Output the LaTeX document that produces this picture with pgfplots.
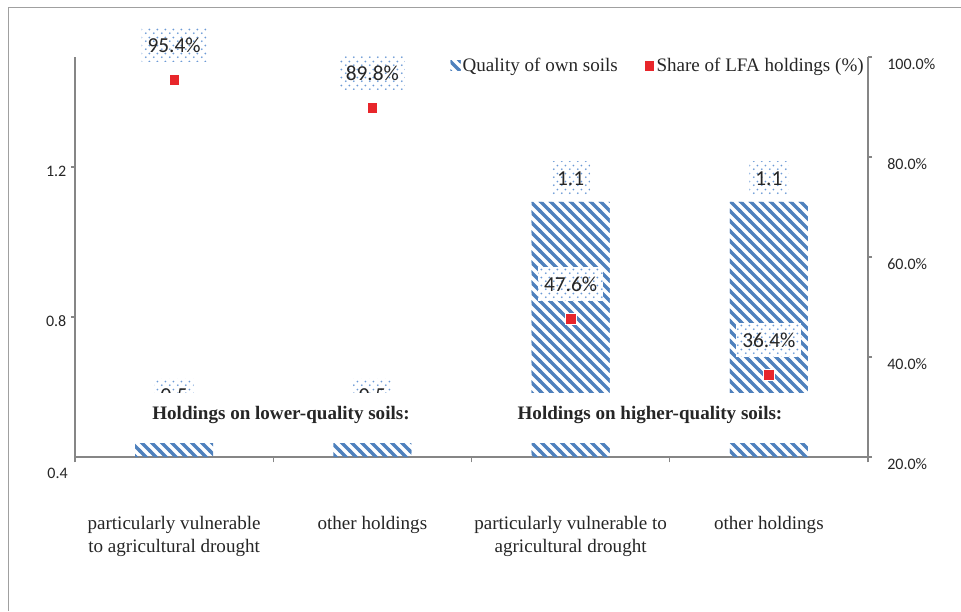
\documentclass[border=0pt]{standalone}
\usepackage{pgfplots}
\pgfplotsset{compat=1.18}
\usepackage{fontspec}
\setmainfont{Liberation Serif}
\newfontfamily\calibri{Carlito}
\usetikzlibrary{patterns.meta}

\definecolor{barblue}{HTML}{4F81BD}
\definecolor{dotblue}{HTML}{6C9AD6}
\definecolor{markred}{HTML}{E8262B}
\definecolor{axisgray}{HTML}{868686}
\definecolor{framegray}{HTML}{A0A0A0}
\definecolor{txt}{HTML}{262626}

\newcommand\serifsz{\fontsize{14.3}{17.2}\selectfont}
\newcommand\ticksz{\calibri\fontsize{12}{14.4}\selectfont}
\newcommand\datasz{\calibri\fontsize{16}{19}\selectfont}

\tikzdeclarepattern{
  name=soilstripes,
  type=uncolored,
  bottom left={(-1.5pt,-1.5pt)},
  top right={(9pt,9pt)},
  tile size={(7.5pt,7.5pt)},
  code={\draw[line width=2.5pt] (-1.5pt,9pt) -- (9pt,-1.5pt);}
}
\tikzdeclarepattern{
  name=labeldots,
  type=uncolored,
  bottom left={(0pt,0pt)},
  top right={(6pt,6pt)},
  tile size={(6pt,6pt)},
  code={\fill (1.5pt,1.5pt) circle (0.8pt);
        \fill (4.5pt,4.5pt) circle (0.8pt);}
}

% label boxes: white ground with blue dots, text colour set inside the label
\tikzset{
  labelbox/.style={font=\datasz, anchor=south, color=dotblue, draw=none,
    fill=white, postaction={pattern=labeldots, pattern color=dotblue, draw=none},
    minimum height=25pt, inner xsep=4.5pt, inner ysep=0pt},
}
\pgfplotsset{
  chartframe/.style={
    at={(56.25pt,115.5pt)}, anchor=south west,
    scale only axis, width=594.75pt, height=300pt,
    xmin=-0.5, xmax=3.5,
    /pgf/number format/assume math mode=true,
    axis line style={draw=axisgray, line width=1.1pt},
    tick style={draw=axisgray, line width=0.8pt},
    tick align=outside, major tick length=3pt, minor tick length=4pt,
  },
}

\begin{document}
\begin{tikzpicture}
  % left axis: soil quality bars
  \begin{axis}[
      chartframe,
      ymin=0.4267, ymax=1.4933,
      axis x line*=bottom, axis y line*=left,
      xtick={0,1,2,3}, major x tick style={draw=none},
      minor xtick={-0.5,0.5,1.5,2.5,3.5},
      xticklabels={{particularly vulnerable\\to agricultural drought},
                   {other holdings},
                   {particularly vulnerable to\\agricultural drought},
                   {other holdings}},
      xticklabel style={font=\serifsz, align=center, text=txt, yshift=-38pt},
      ytick={0.8,1.2},
      yticklabel={\pgfmathprintnumber[fixed,precision=1,fixed zerofill]{\tick}},
      yticklabel style={font=\ticksz, text=txt, yshift=-3pt},
      ybar, bar width=58.5pt,
      nodes near coords={\color{txt}\pgfmathprintnumber[fixed,precision=1]{\pgfplotspointmeta}},
      nodes near coords style={labelbox, yshift=5pt},
    ]
    \addplot[draw=none, pattern=soilstripes, pattern color=barblue]
      coordinates {(0,0.528) (1,0.528) (2,1.107) (3,1.107)};
  \end{axis}

  % white band with the group captions
  \fill[white] (60pt,126pt) rectangle (645pt,163.5pt);
  \node[font=\serifsz\bfseries, text=txt] at (210.75pt,147pt) {Holdings on lower-quality soils:};
  \node[font=\serifsz\bfseries, text=txt] at (487.5pt,147pt) {Holdings on higher-quality soils:};
  \node[font=\ticksz, text=txt, anchor=east, inner sep=0pt] at (51pt,103.5pt) {0.4};

  % right axis: share of LFA holdings
  \begin{axis}[
      chartframe,
      ymin=20, ymax=100,
      axis x line=none, axis y line*=right,
      ytick={20,40,...,100},
      yticklabel={\pgfmathprintnumber[fixed,precision=1,fixed zerofill]{\tick}\%},
      yticklabel style={font=\ticksz, text=txt, xshift=8pt, yshift=-5.5pt},
      legend columns=2,
      legend style={draw=none, fill=none, font=\serifsz, text=txt,
        at={(0.9975,0.9775)}, anchor=east, inner sep=0pt,
        nodes={inner sep=1.5pt},
        /tikz/every even column/.append style={column sep=18pt}},
    ]
    \addlegendimage{legend image code/.code={
      \path[draw=none, pattern=soilstripes, pattern color=barblue] (0pt,-3.75pt) rectangle (7.5pt,3.75pt);}}
    \addlegendentry{Quality of own soils}
    \addplot[only marks, mark=square*, mark size=4pt, color=markred,
      mark options={draw=white, line width=0.4pt},
      nodes near coords={\color{txt}\pgfmathprintnumber[fixed,precision=1,fixed zerofill]{\pgfplotspointmeta}\%},
      nodes near coords style={labelbox, yshift=13.5pt}]
      coordinates {(0,95.4) (1,89.8) (2,47.6) (3,36.4)};
    \addlegendentry{Share of LFA holdings (\%)}
  \end{axis}

  % chart frame
  \draw[framegray, line width=0.75pt] (6pt,0pt) -- (6pt,452.25pt) -- (720.75pt,452.25pt);

  \pgfresetboundingbox
  \useasboundingbox (0pt,0pt) rectangle (720.75pt,458.25pt);
\end{tikzpicture}
\end{document}
